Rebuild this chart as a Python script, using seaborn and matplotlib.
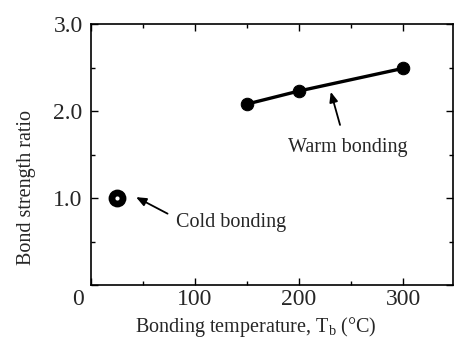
import matplotlib
matplotlib.use("Agg")
import matplotlib.pyplot as plt
import matplotlib.transforms as mtransforms
import seaborn as sns
import pandas as pd

# Warm bonding series
warm_temp = [150, 200, 300]
warm_ratio = [2.08, 2.23, 2.49]
# Cold bonding point (room temperature)
cold_temp = [25]
cold_ratio = [1.0]

x_ticks = [0, 100, 200, 300]
x_tick_labels = ["0", "100", "200", "300"]
y_ticks = [0, 1.0, 2.0, 3.0]
y_tick_labels = ["", "1.0", "2.0", "3.0"]

sns.set_style("ticks")
plt.rcParams["font.family"] = ["Liberation Serif", "DejaVu Serif"]
plt.rcParams["mathtext.fontset"] = "custom"
plt.rcParams["mathtext.rm"] = "Liberation Serif"

fig = plt.figure(figsize=(4.58, 3.47), dpi=100)
ax = fig.add_axes([91 / 458, 62 / 347, 362 / 458, 261 / 347])

warm = pd.DataFrame({"temp": warm_temp, "ratio": warm_ratio})
cold = pd.DataFrame({"temp": cold_temp, "ratio": cold_ratio})

sns.lineplot(data=warm, x="temp", y="ratio", ax=ax, color="black",
             linewidth=2.4, marker="o", markersize=9,
             markeredgecolor="black", markerfacecolor="black")
# bullseye marker: large black disc with a small white centre
sns.scatterplot(data=cold, x="temp", y="ratio", ax=ax, color="black",
                s=165, edgecolor="black", linewidth=0, zorder=3)
sns.scatterplot(data=cold, x="temp", y="ratio", ax=ax, color="white",
                s=9, edgecolor="white", linewidth=0, zorder=4)

ax.set_xlim(0, 348)
ax.set_ylim(0, 3.0)
ax.set_xticks(x_ticks)
ax.set_xticklabels(x_tick_labels)
ax.set_yticks(y_ticks)
ax.set_yticklabels(y_tick_labels)
ax.set_xticks([50, 150, 250], minor=True)
ax.set_yticks([0.5, 1.5, 2.5], minor=True)

for side in ["top", "right", "left", "bottom"]:
    ax.spines[side].set_visible(True)
    ax.spines[side].set_linewidth(1.2)
    ax.spines[side].set_color("black")

ax.tick_params(which="both", direction="in", top=True, right=True,
               color="black", width=1.0)
ax.tick_params(which="major", length=5)
ax.tick_params(which="minor", length=3)
ax.tick_params(axis="x", which="major", labelsize=17, pad=3)
ax.tick_params(axis="y", which="major", labelsize=17, pad=6)

# shared origin label sits below-left of the corner
zero_label = ax.get_xticklabels()[0]
zero_label.set_transform(zero_label.get_transform() +
                         mtransforms.ScaledTranslation(-13 / 100, 0, fig.dpi_scale_trans))

ax.set_xlabel(r"Bonding temperature, T$_{\rm b}$ (°C)", fontsize=14.5)
ax.set_ylabel("Bond strength ratio", fontsize=14.5)
ax.xaxis.set_label_coords(0.456, -0.161)
ax.xaxis.label.set_verticalalignment("center")
ax.yaxis.set_label_coords(-0.177, 0.372)
ax.yaxis.label.set_verticalalignment("center")

arrow = dict(arrowstyle="-|>,head_length=0.6,head_width=0.25",
             color="black", lw=1.3, shrinkA=0, shrinkB=0)
ax.annotate("", xy=(43.3, 1.01), xytext=(73.6, 0.82), arrowprops=arrow)
ax.text(81.7, 0.724, "Cold bonding", fontsize=14.5, ha="left", va="center")
ax.annotate("", xy=(230.5, 2.22), xytext=(239.4, 1.84), arrowprops=arrow)
ax.text(247, 1.575, "Warm bonding", fontsize=14.5, ha="center", va="center")

fig.savefig("out.png", dpi=100, facecolor="white")
